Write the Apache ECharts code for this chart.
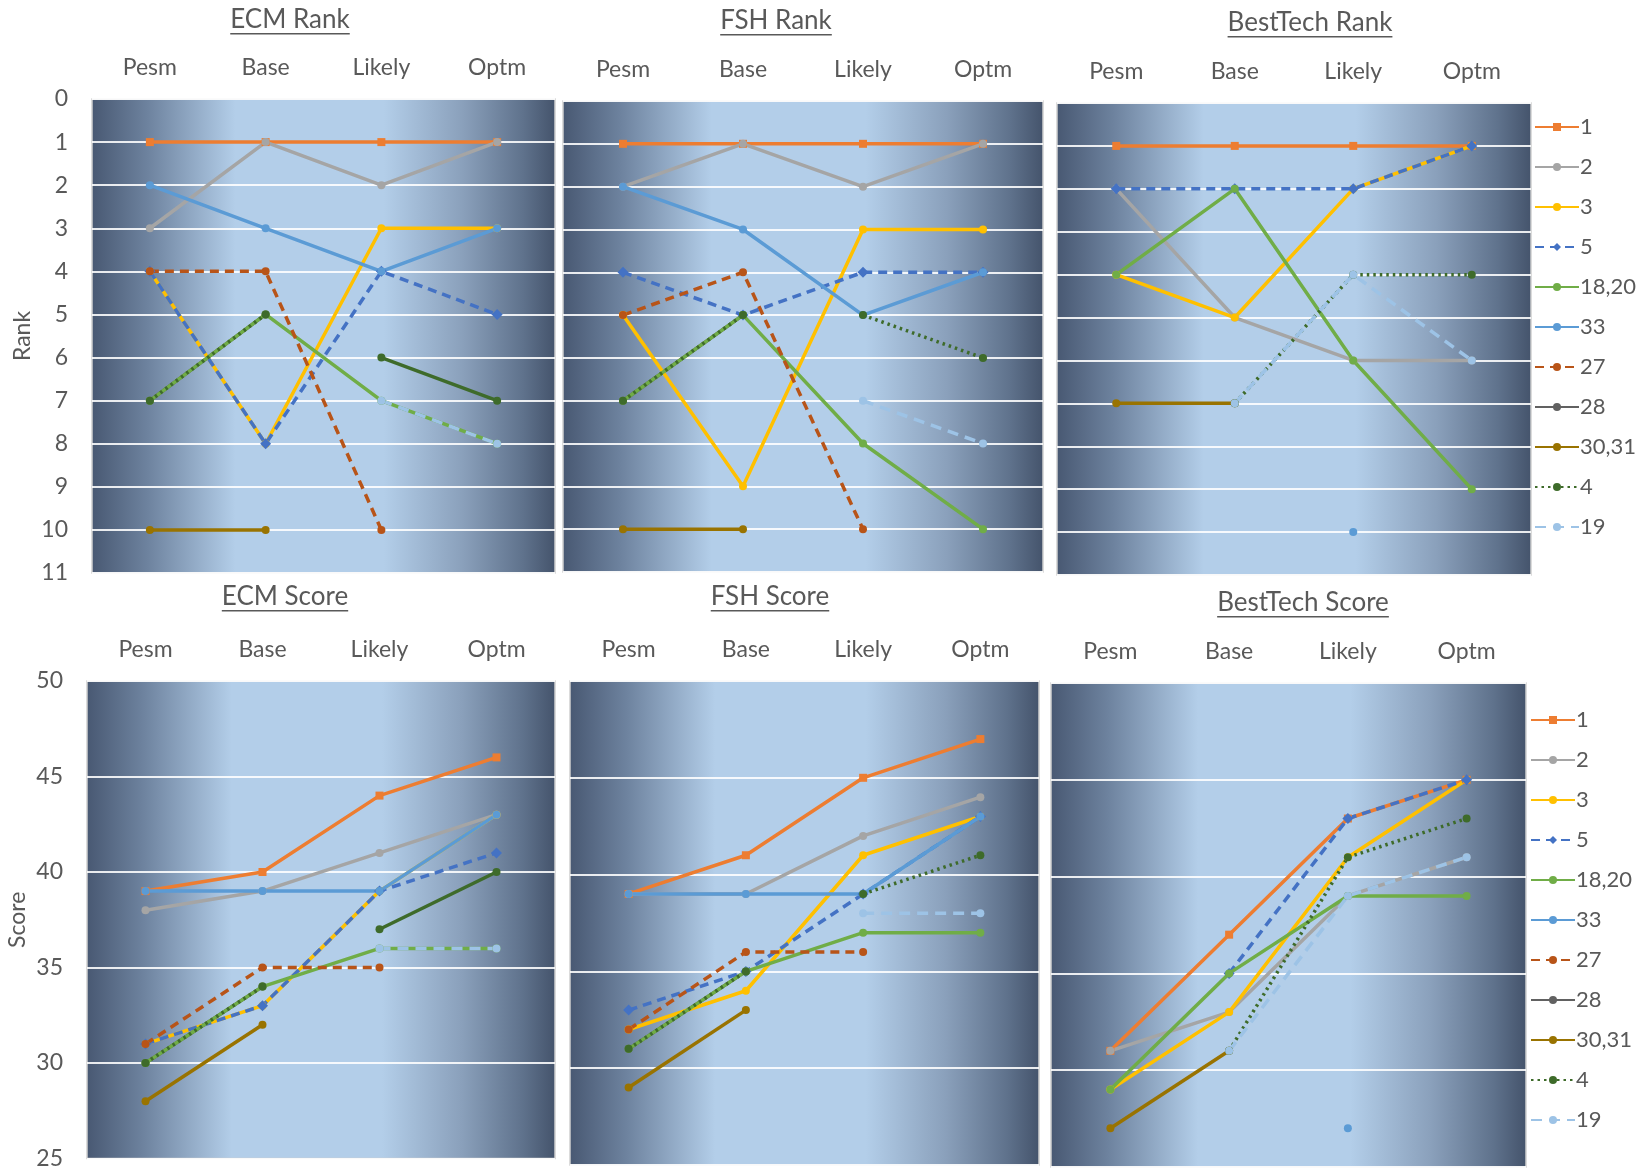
<!DOCTYPE html>
<html>
<head>
<meta charset="utf-8">
<title>Rank and Score by Scenario</title>
<script src="https://cdn.jsdelivr.net/npm/echarts@6.0.0/dist/echarts.min.js"></script>
<style>
  html, body { margin: 0; padding: 0; background: #ffffff; }
  #chart { width: 1648px; height: 1170px; }
</style>
</head>
<body>
<div id="chart"></div>
<script>
// Scenario categories along the top of every panel
const categories = ['Pesm', 'Base', 'Likely', 'Optm'];

// Series (alternatives) in legend order
const seriesNames = ['1', '2', '3', '5', '18,20', '33', '27', '28', '30,31', '4', '19'];

// Each row follows seriesNames; null = no value for that scenario
const ecmRank = [
  [1, 1, 1, 1],
  [3, 1, 2, 1],
  [4, 8, 3, 3],
  [4, 8, 4, 5],
  [7, 5, 7, 8],
  [2, 3, 4, 3],
  [4, 4, 10, null],
  [7, 5, null, null],
  [10, 10, null, null],
  [7, 5, null, null],
  [null, null, 7, 8]
];
const ecmRank4Late = [null, null, 6, 7];

const fshRank = [
  [1, 1, 1, 1],
  [2, 1, 2, 1],
  [5, 9, 3, 3],
  [4, 5, 4, 4],
  [7, 5, 8, 10],
  [2, 3, 5, 4],
  [5, 4, 10, null],
  [7, 5, null, null],
  [10, 10, null, null],
  [7, 5, null, null],
  [null, null, 7, 8]
];
const fshRank4Late = [null, null, 5, 6];

const bestTechRank = [
  [1, 1, 1, 1],
  [2, 5, 6, 6],
  [4, 5, 2, 1],
  [2, 2, 2, 1],
  [4, 2, 6, 9],
  [null, null, 10, null],
  [null, null, null, null],
  [null, null, null, null],
  [7, 7, null, null],
  [null, 7, 4, 4],
  [null, 7, 4, 6]
];

const ecmScore = [
  [39, 40, 44, 46],
  [38, 39, 41, 43],
  [31, 33, 39, 43],
  [31, 33, 39, 41],
  [30, 34, 36, 36],
  [39, 39, 39, 43],
  [31, 35, 35, null],
  [30, 34, null, null],
  [28, 32, null, null],
  [30, 34, null, null],
  [null, null, 36, 36]
];
const ecmScore4Late = [null, null, 37, 40];

const fshScore = [
  [39, 41, 45, 47],
  [39, 39, 42, 44],
  [32, 34, 41, 43],
  [33, 35, 39, 43],
  [31, 35, 37, 37],
  [39, 39, 39, 43],
  [32, 36, 36, null],
  [31, 35, null, null],
  [29, 33, null, null],
  [31, 35, null, null],
  [null, null, 38, 38]
];
const fshScore4Late = [null, null, 39, 41];

const bestTechScore = [
  [31, 37, 43, 45],
  [31, 33, 39, 41],
  [29, 33, 41, 45],
  [null, 35, 43, 45],
  [29, 35, 39, 39],
  [null, null, 27, null],
  [null, null, null, null],
  [null, null, null, null],
  [27, 31, null, null],
  [null, 31, 41, 43],
  [null, 31, 39, 41]
];

// Axis ticks
const rankTicks = { min: 0, max: 11, interval: 1 };
const scoreTicks = { min: 25, max: 50, interval: 5 };

// ---- styling ----
const TEXT = '#595959';
const FONT = 'Lato';

const styles = {
  '1':     { color: '#ED7D31', type: 'solid',  symbol: 'rect',    size: 8 },
  '2':     { color: '#A5A5A5', type: 'solid',  symbol: 'circle',  size: 8 },
  '3':     { color: '#FFC000', type: 'solid',  symbol: 'circle',  size: 8 },
  '5':     { color: '#4472C4', type: [9, 6],   symbol: 'diamond', size: 11 },
  '18,20': { color: '#70AD47', type: 'solid',  symbol: 'circle',  size: 8 },
  '33':    { color: '#5B9BD5', type: 'solid',  symbol: 'circle',  size: 8 },
  '27':    { color: '#B85418', type: [9, 6],   symbol: 'circle',  size: 8 },
  '28':    { color: '#616161', type: 'solid',  symbol: 'circle',  size: 8, z: 1 },
  '30,31': { color: '#997300', type: 'solid',  symbol: 'circle',  size: 8 },
  '4':     { color: '#3E6B2A', type: [2.5, 4], symbol: 'circle',  size: 8 },
  '19':    { color: '#9DC3E6', type: [11, 7],  symbol: 'circle',  size: 8 }
};

// Plot rectangles: left, top, width, height
const panels = [
  { title: 'ECM Rank',       box: [92, 99, 463, 474],   ticks: rankTicks,  values: ecmRank,       late: ecmRank4Late,  lateType: 'solid', labels: true,  axisName: 'Rank',  titleAt: [290, 21] },
  { title: 'FSH Rank',       box: [563, 101, 480, 471], ticks: rankTicks,  values: fshRank,       late: fshRank4Late,  lateType: [2.5, 4], labels: false, titleAt: [776, 22] },
  { title: 'BestTech Rank',  box: [1057, 103, 474, 472], ticks: rankTicks, values: bestTechRank,  late: null,          labels: false, titleAt: [1310, 24] },
  { title: 'ECM Score',      box: [87, 681, 468, 480],  ticks: scoreTicks, values: ecmScore,      late: ecmScore4Late, lateType: 'solid', labels: true,  axisName: 'Score', titleAt: [285, 598] },
  { title: 'FSH Score',      box: [570, 681, 469, 484], ticks: scoreTicks, values: fshScore,      late: fshScore4Late, lateType: [2.5, 4], labels: false, titleAt: [770, 598] },
  { title: 'BestTech Score', box: [1051, 683, 475, 484], ticks: scoreTicks, values: bestTechScore, late: null,         labels: false, titleAt: [1303, 604] }
];

const plotFill = {
  type: 'linear', x: 0, y: 0, x2: 1, y2: 0,
  colorStops: [
    { offset: 0.00, color: '#485872' },
    { offset: 0.12, color: '#6d829e' },
    { offset: 0.31, color: '#b3cee9' },
    { offset: 0.63, color: '#b3cee9' },
    { offset: 0.80, color: '#8aa0bb' },
    { offset: 0.93, color: '#5f728c' },
    { offset: 1.00, color: '#44536b' }
  ]
};

const grids = [], xAxes = [], yAxes = [], series = [], graphics = [];

function lineSeries(name, data, gridIndex, lineType) {
  const s = styles[name];
  return {
    name: name,
    type: 'line',
    xAxisIndex: gridIndex,
    yAxisIndex: gridIndex,
    data: data,
    z: s.z || 2,
    connectNulls: false,
    symbol: s.symbol,
    symbolSize: s.size,
    showSymbol: true,
    lineStyle: { color: s.color, width: 3.5, type: lineType },
    itemStyle: { color: s.color },
    emphasis: { disabled: true }
  };
}

const measureCtx = document.createElement('canvas').getContext('2d');

panels.forEach((p, i) => {
  const [left, top, width, height] = p.box;
  const isRank = p.ticks === rankTicks;
  grids.push({
    left: left, top: top, width: width, height: height,
    show: true,
    backgroundColor: plotFill,
    borderColor: '#cfcfcf',
    borderWidth: 1.5
  });
  xAxes.push({
    type: 'category',
    gridIndex: i,
    data: categories,
    position: 'top',
    boundaryGap: true,
    axisLine: { show: false },
    axisTick: { show: false },
    axisLabel: { color: TEXT, fontFamily: FONT, fontSize: 23, margin: 20 }
  });
  yAxes.push({
    type: 'value',
    gridIndex: i,
    inverse: isRank,
    min: p.ticks.min,
    max: p.ticks.max,
    interval: p.ticks.interval,
    axisLine: { show: false },
    axisTick: { show: false },
    axisLabel: { show: p.labels, color: TEXT, fontFamily: FONT, fontSize: 23, margin: 24 },
    splitLine: { show: true, lineStyle: { color: 'rgba(255,255,255,0.88)', width: 2 } },
    name: p.axisName || '',
    nameLocation: 'middle',
    nameRotate: 90,
    nameGap: 58,
    nameTextStyle: { color: TEXT, fontFamily: FONT, fontSize: 23 }
  });

  seriesNames.forEach((name, k) => {
    const data = p.values[k];
    if (data.every(v => v === null)) return;
    series.push(lineSeries(name, data, i, styles[name].type));
    if (name === '4' && p.late) {
      series.push(lineSeries('4', p.late, i, p.lateType));
    }
  });

  // underlined panel title
  const titleFont = '26px ' + FONT;
  measureCtx.font = titleFont;
  const w = measureCtx.measureText(p.title).width;
  const [cx, cy] = p.titleAt;
  graphics.push({
    type: 'text',
    left: cx - w / 2,
    top: cy - 14,
    style: { text: p.title, fill: TEXT, font: titleFont }
  });
  graphics.push({
    type: 'rect',
    left: cx - w / 2,
    top: cy + 12,
    shape: { width: w, height: 1.6 },
    style: { fill: TEXT }
  });
});

function legendAt(left, top) {
  return {
    data: seriesNames,
    orient: 'vertical',
    left: left,
    top: top,
    itemWidth: 44,
    itemHeight: 10,
    itemGap: 18,
    selectedMode: false,
    textStyle: { color: TEXT, fontFamily: FONT, fontSize: 22, lineHeight: 22, padding: [0, 0, 0, -4] }
  };
}

const chart = echarts.init(document.getElementById('chart'), null, { renderer: 'canvas' });
chart.setOption({
  animation: false,
  backgroundColor: '#ffffff',
  textStyle: { fontFamily: FONT },
  grid: grids,
  xAxis: xAxes,
  yAxis: yAxes,
  legend: [legendAt(1529, 111), legendAt(1525, 704)],
  series: series,
  graphic: graphics
});
</script>
</body>
</html>
